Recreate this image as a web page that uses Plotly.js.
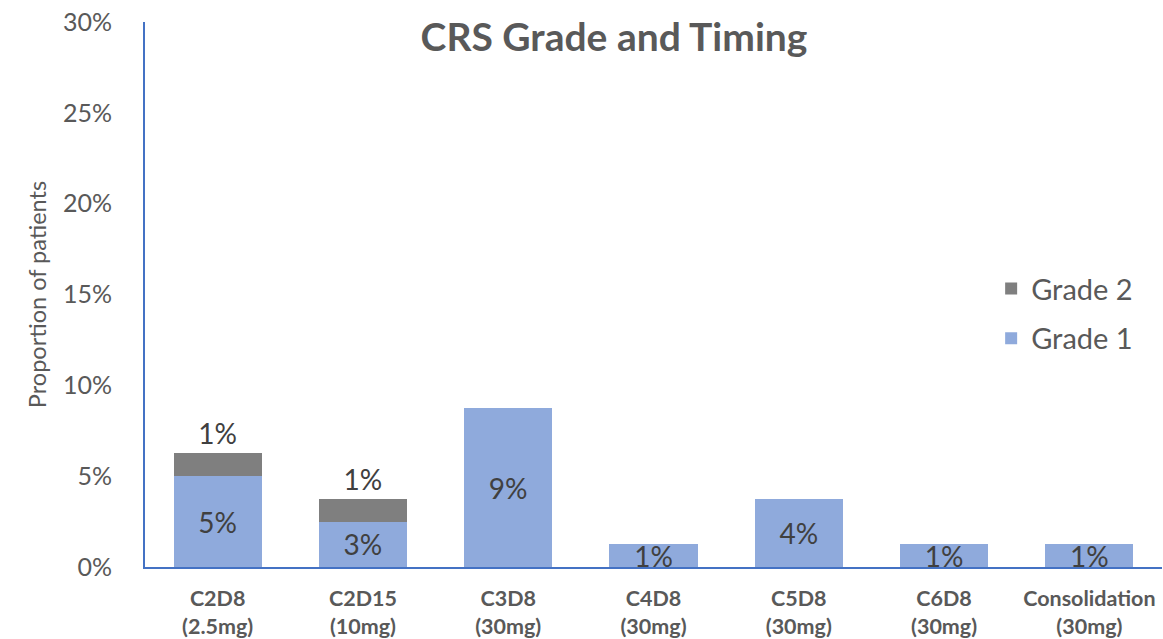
<!DOCTYPE html>
<html>
<head>
<meta charset="utf-8">
<script src="https://cdn.plot.ly/plotly-3.0.1.min.js"></script>
<style>html,body{margin:0;padding:0;background:#fff;}#chart{width:1163px;height:639px;}</style>
</head>
<body>
<div id="chart"></div>
<script>
const categories = ["C2D8<br>(2.5mg)", "C2D15<br>(10mg)", "C3D8<br>(30mg)", "C4D8<br>(30mg)", "C5D8<br>(30mg)", "C6D8<br>(30mg)", "Consolidation<br>(30mg)"];
const grade1 = [5.0, 2.5, 8.75, 1.25, 3.75, 1.25, 1.25];
const grade2 = [1.25, 1.25, 0, 0, 0, 0, 0];
const yTickVals = [0, 5, 10, 15, 20, 25, 30];
const yTickText = ["0%", "5%", "10%", "15%", "20%", "25%", "30%"];

const fmt = v => v > 0 ? Math.round(v) + "%" : "";
const FONT = "Lato, 'Open Sans', sans-serif";

const traces = [
  {
    type: "bar", name: "Grade 1", x: categories, y: grade1,
    marker: {color: "#8FAADC"},
    text: grade1.map(fmt), textposition: "inside", insidetextanchor: "middle",
    constraintext: "none", textangle: 0,
    textfont: {family: FONT, size: 28, color: "#404040"},
    legendgroup: "g1", legendrank: 2, hoverinfo: "none"
  },
  {
    type: "bar", name: "Grade 2", x: categories, y: grade2,
    marker: {color: "#7F7F7F"},
    text: grade2.map(fmt), textposition: "outside", cliponaxis: false,
    constraintext: "none", textangle: 0,
    textfont: {family: FONT, size: 28, color: "#404040"},
    legendgroup: "g2", legendrank: 1, hoverinfo: "none"
  }
];

const layout = {
  width: 1163, height: 639,
  margin: {l: 145, r: 1, t: 22, b: 72},
  paper_bgcolor: "#ffffff", plot_bgcolor: "#ffffff",
  barmode: "stack", bargap: 0.394,
  font: {family: FONT, color: "#595959"},
  title: {
    text: "<b>CRS Grade and Timing</b>",
    font: {family: FONT, size: 39, color: "#595959"},
    x: 614/1163, xanchor: "center", xref: "container",
    y: 1 - 37/639, yanchor: "middle", yref: "container"
  },
  xaxis: {
    showline: true, linecolor: "#4472C4", linewidth: 2,
    showgrid: false, zeroline: false, ticks: "",
    ticklabelstandoff: 11,
    tickfont: {family: FONT, size: 21.5, color: "#595959", weight: "bold"},
    fixedrange: true
  },
  yaxis: {
    range: [0, 30], tickvals: yTickVals, ticktext: yTickText,
    showline: true, linecolor: "#4472C4", linewidth: 2,
    showgrid: false, zeroline: false, ticks: "",
    ticklabelstandoff: 26,
    tickfont: {family: FONT, size: 25, color: "#595959"},
    title: {text: "Proportion of patients", font: {family: FONT, size: 23.5, color: "#595959"}, standoff: 10},
    fixedrange: true
  },
  legend: {
    x: 0.832, xanchor: "left", y: 0.465, yanchor: "middle",
    traceorder: "grouped", tracegroupgap: 9,
    font: {family: FONT, size: 29, color: "#595959"},
    bgcolor: "rgba(0,0,0,0)"
  },
  showlegend: true
};

Plotly.newPlot("chart", traces, layout, {displayModeBar: false, staticPlot: true});
</script>
</body>
</html>
